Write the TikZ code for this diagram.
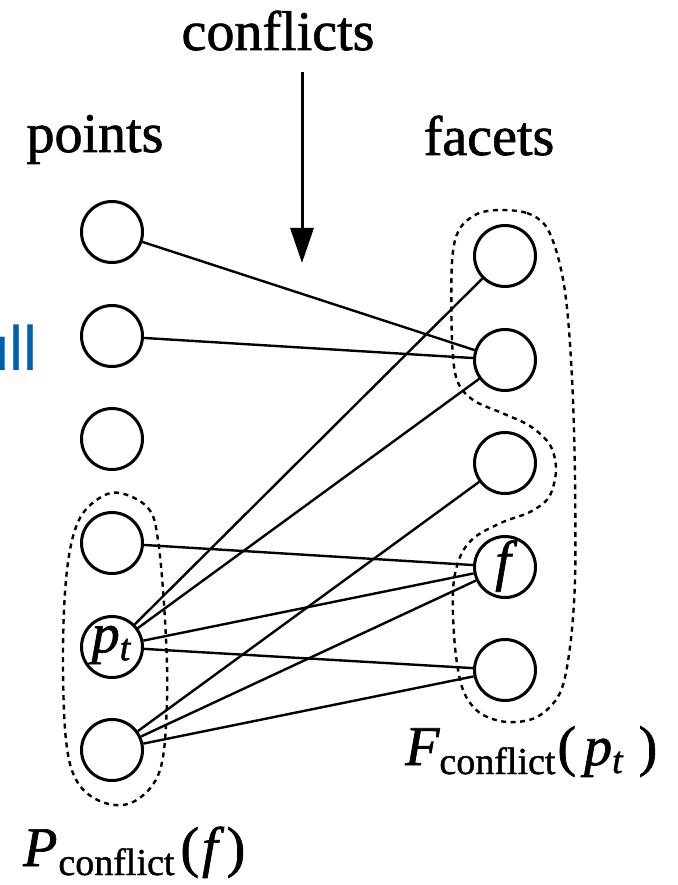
\documentclass[tikz,border=0pt]{standalone}
\usepackage{fontspec}
\setmainfont{Liberation Serif}[FakeBold=1.2]
\newfontfamily\hullfont{Liberation Sans}
\usetikzlibrary{arrows.meta}
\definecolor{hullblue}{RGB}{0,96,176}
\newcommand{\bigsz}{\fontsize{56}{60}\selectfont}
\newcommand{\subsz}{\fontsize{38}{40}\selectfont}
\tikzset{
  vert/.style={circle, draw, line width=3pt, minimum size=61pt, inner sep=0pt},
  conn/.style={line width=2.4pt},
  blob/.style={line width=2.4pt, dash pattern=on 5pt off 4.5pt},
  lbl/.style={inner sep=0pt, font=\bigsz},
}
\begin{document}
\begin{tikzpicture}[x=1pt,y=-1pt]
\useasboundingbox (0,0) rectangle (677,885);
% partial blue text at left edge
\node[inner sep=0pt, anchor=base east, text=hullblue, font=\hullfont\fontsize{63}{63}\selectfont] (hull) at (38,370) {ull};
% headings
\node[lbl, anchor=base] (conf) at (278,50) {conflicts};
\node[lbl, anchor=base] (pts) at (95,152) {points};
\node[lbl, anchor=base] (fac) at (489,155) {facets};
% arrow
\coordinate (atop) at (302,72);
\coordinate (abot) at (302,263);
\draw[line width=3pt, -{Triangle[length=35pt,width=23pt]}] (atop) -- (abot);
% point nodes
\node[vert] (L1) at (112,232) {};
\node[vert] (L2) at (112,336) {};
\node[vert] (L3) at (112,439) {};
\node[vert] (L4) at (112,543) {};
\node[vert] (L5) at (112,647) {};
\node[vert] (L6) at (112,750) {};
\node[lbl] (L5t) at (111,645) {\itshape p\raisebox{-8pt}{\subsz t}};
% facet nodes
\node[vert] (F1) at (505,256) {};
\node[vert] (F2) at (505,360) {};
\node[vert] (F3) at (505,463) {};
\node[vert] (F4) at (505,567) {};
\node[vert] (F5) at (505,670) {};
\node[lbl] (F4t) at (503,566) {\itshape f};
% conflict edges
\draw[conn] (L1) -- (F2);
\draw[conn] (L2) -- (F2);
\draw[conn] (L4) -- (F4);
\draw[conn] (L5) -- (F1);
\draw[conn] (L5) -- (F2);
\draw[conn] (L5) -- (F4);
\draw[conn] (L5) -- (F5);
\draw[conn] (L6) -- (F3);
\draw[conn] (L6) -- (F4);
\draw[conn] (L6) -- (F5);
% dashed groups
\draw[blob] plot[smooth cycle, tension=0.6] coordinates {
  (120,493) (148,508) (158,540) (165,620) (167,700) (160,770) (135,801)
  (105,803) (78,783) (66,740) (63,650) (67,570) (78,522) (98,499)};
\draw[blob] plot[smooth cycle, tension=0.55] coordinates {
  (500,210) (527,213) (545,225) (556,250) (564,285) (569,330) (573,400)
  (575,480) (575,580) (570,647) (560,693) (537,717) (507,722) (480,713)
  (463,690) (455,647) (453,590) (460,557) (475,537) (503,522) (530,512)
  (549,497) (556,470) (550,445) (530,426) (502,413) (473,400) (457,380)
  (452,340) (452,262) (459,230) (477,214)};
% group labels
\node[lbl, anchor=base west] (Pc) at (23,866) {\itshape P\kern1pt\raisebox{-9pt}{\subsz\upshape conflict}\kern6pt\upshape(\kern3pt\itshape f\kern9pt\upshape)};
\node[lbl, anchor=base west] (Fc) at (405,765) {\itshape F\kern0pt\raisebox{-9pt}{\subsz\upshape conflict}\kern2pt\upshape(\kern8pt\itshape p\raisebox{-8pt}{\subsz t}\kern16pt\upshape)};
\end{tikzpicture}
\end{document}
